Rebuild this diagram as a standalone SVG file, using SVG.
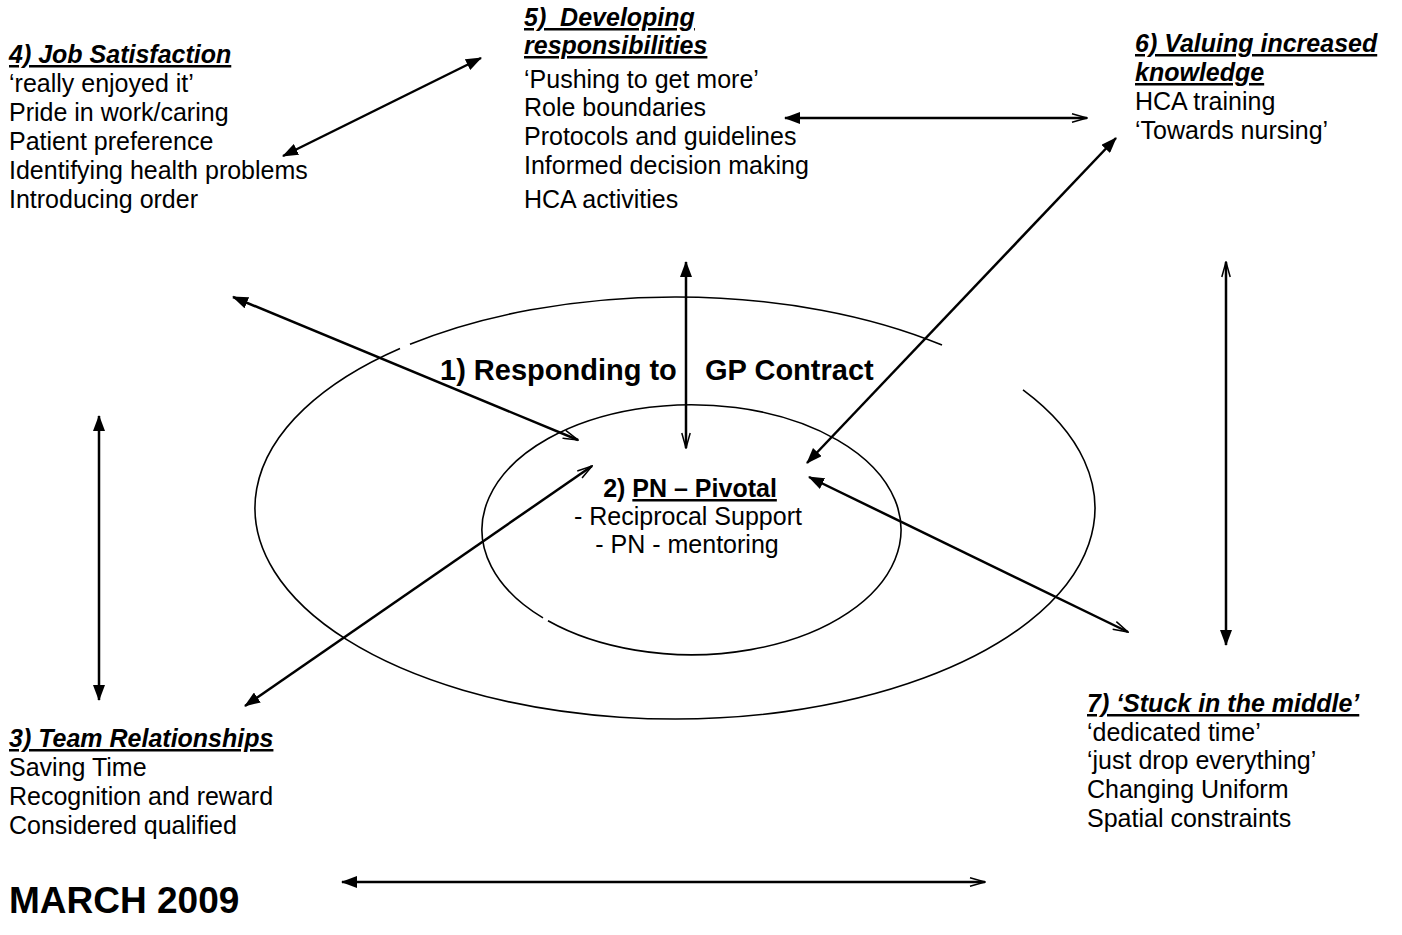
<svg xmlns="http://www.w3.org/2000/svg" width="1402" height="935" viewBox="0 0 1402 935">
<style>
text{font-family:"Liberation Sans",Arial,sans-serif;fill:#000}
.b{font-size:25px}
.t{font-size:25px;font-weight:bold;font-style:italic;text-decoration:underline}
.ring{fill:none;stroke:#000;stroke-width:1.6}
.arr{fill:none;stroke:#000;stroke-width:2.5}
</style>
<defs>
<marker id="f" viewBox="0 0 16 12" refX="15" refY="6" markerWidth="16" markerHeight="12" markerUnits="userSpaceOnUse" orient="auto-start-reverse"><path d="M0,0 L16,6 L0,12 z" fill="#000"/></marker>
<marker id="o" viewBox="0 0 17 10" refX="16" refY="5" markerWidth="17" markerHeight="10" markerUnits="userSpaceOnUse" orient="auto-start-reverse"><path d="M1,0.8 L16,5 L1,9.2" fill="none" stroke="#000" stroke-width="1.5"/></marker>
</defs>
<rect width="1402" height="935" fill="#fff"/>
<g id="ring-outer">
<path class="ring" d="M410 344.3 A420 211 0 0 1 942 345.1"/>
<path class="ring" d="M1023 389.9 A420 211 0 1 1 400 348.5"/>
<text x="440" y="380" style="font-size:29px;font-weight:bold">1) Responding to</text>
<text x="705" y="380" style="font-size:29px;font-weight:bold">GP Contract</text>
</g>
<g id="ring-inner">
<path class="ring" d="M543 617.9 A209.5 125 0 1 1 548 620.8"/>
<text x="690" y="497" text-anchor="middle" style="font-size:25px;font-weight:bold">2) <tspan text-decoration="underline">PN – Pivotal</tspan></text>
<text x="688" y="525" text-anchor="middle" class="b">- Reciprocal Support</text>
<text x="687" y="553" text-anchor="middle" class="b">- PN - mentoring</text>
</g>
<g id="node4">
<text x="9" y="63" class="t">4) Job Satisfaction</text>
<text x="9" y="92" class="b">‘really enjoyed it’</text>
<text x="9" y="121" class="b">Pride in work/caring</text>
<text x="9" y="150" class="b">Patient preference</text>
<text x="9" y="179" class="b">Identifying health problems</text>
<text x="9" y="208" class="b">Introducing order</text>
</g>
<g id="node5">
<text x="524" y="26" class="t" xml:space="preserve">5)  Developing</text>
<text x="524" y="54" class="t">responsibilities</text>
<text x="524" y="88" class="b">‘Pushing to get more’</text>
<text x="524" y="116" class="b">Role boundaries</text>
<text x="524" y="145" class="b">Protocols and guidelines</text>
<text x="524" y="174" class="b">Informed decision making</text>
<text x="524" y="208" class="b">HCA activities</text>
</g>
<g id="node6">
<text x="1135" y="52" class="t">6) Valuing increased</text>
<text x="1135" y="81" class="t">knowledge</text>
<text x="1135" y="110" class="b">HCA training</text>
<text x="1135" y="139" class="b">‘Towards nursing’</text>
</g>
<g id="node7">
<text x="1087" y="712" class="t">7) ‘Stuck in the middle’</text>
<text x="1087" y="741" class="b">‘dedicated time’</text>
<text x="1087" y="769" class="b">‘just drop everything’</text>
<text x="1087" y="798" class="b">Changing Uniform</text>
<text x="1087" y="827" class="b">Spatial constraints</text>
</g>
<g id="node3">
<text x="9" y="747" class="t">3) Team Relationships</text>
<text x="9" y="776" class="b">Saving Time</text>
<text x="9" y="805" class="b">Recognition and reward</text>
<text x="9" y="834" class="b">Considered qualified</text>
</g>
<g id="date">
<text x="9" y="913" style="font-size:37px;font-weight:bold">MARCH 2009</text>
</g>
<g id="connectors">
<path class="arr" d="M283 156 L481 58" marker-start="url(#f)" marker-end="url(#f)"/>
<path class="arr" d="M785 118 L1087 118" marker-start="url(#f)" marker-end="url(#o)"/>
<path class="arr" d="M686 262 L686 448" marker-start="url(#f)" marker-end="url(#o)"/>
<path class="arr" d="M233 297 L578 440" marker-start="url(#f)" marker-end="url(#o)"/>
<path class="arr" d="M1116 138 L807 463" marker-start="url(#f)" marker-end="url(#f)"/>
<path class="arr" d="M809 477 L1128 632" marker-start="url(#f)" marker-end="url(#o)"/>
<path class="arr" d="M245 706 L592 466" marker-start="url(#f)" marker-end="url(#o)"/>
<path class="arr" d="M99 416 L99 700" marker-start="url(#f)" marker-end="url(#f)"/>
<path class="arr" d="M1226 262 L1226 645" marker-start="url(#o)" marker-end="url(#f)"/>
<path class="arr" d="M342 882 L985 882" marker-start="url(#f)" marker-end="url(#o)"/>
</g>
</svg>
